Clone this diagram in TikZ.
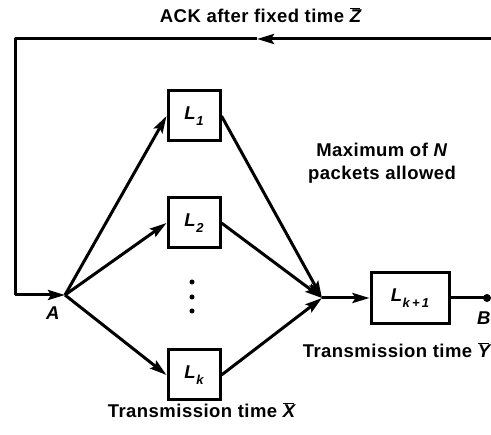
\documentclass[tikz,border=0pt]{standalone}
\usepackage{fontspec}
\setmainfont{Liberation Sans}
\usetikzlibrary{arrows.meta}
\newcommand{\Lsub}[1]{\textit{L}\kern0.5pt\raisebox{-0.55ex}{\fontsize{13}{13}\selectfont\itshape #1}}
\newcommand{\barit}[1]{\ensuremath{\overline{\mbox{\itshape #1\kern-1pt}}}}
\newcommand{\labfont}{\fontsize{18.5}{23}\selectfont\bfseries\addfontfeature{LetterSpace=2.5}}
\tikzset{
  line/.style={line width=3pt, line join=round},
  arr/.style={line, -{Stealth[length=17pt,width=10pt,inset=3pt]}},
  box/.style={draw, line width=3pt, minimum width=52pt, minimum height=50pt, inner sep=0pt, font=\fontsize{18.5}{20}\selectfont\bfseries},
  lab/.style={font=\labfont, inner sep=0pt},
}
\begin{document}
\begin{tikzpicture}[x=1pt,y=-1pt]
\useasboundingbox (0,0) rectangle (491,435);
\coordinate (A) at (65,295);
\coordinate (J) at (322,298);
\coordinate (TR) at (491,39);
\coordinate (M) at (257,39);
\coordinate (TL) at (15,39);
\coordinate (BL) at (15,295);
\coordinate (B) at (487,298);
\coordinate (d1) at (192,282);
\coordinate (d2) at (192,297);
\coordinate (d3) at (192,311);
\node[box] (L1) at (194,116) {\Lsub{1}};
\node[box] (L2) at (194,223) {\Lsub{2}};
\node[box] (Lk) at (194,375) {\Lsub{k}};
\node[box, minimum width=78pt, minimum height=51pt] (Lk1) at (410,298) {\Lsub{k\,+\,1}};
\fill (B) circle (4pt);
\fill (d1) circle (2.5pt);
\fill (d2) circle (2.5pt);
\fill (d3) circle (2.5pt);
\draw[arr] (TR) -- (M);
\draw[line] (M) -- (TL) -- (BL);
\draw[arr] (BL) -- (A);
\draw[arr] (A) -- (L1.west);
\draw[arr] (A) -- (L2.west);
\draw[arr] (A) -- (Lk.west);
\draw[arr] (L1.east) -- (J);
\draw[arr] (L2.east) -- (J);
\draw[arr] (Lk.east) -- (J);
\draw[arr] (J) -- (Lk1.west);
\draw[line] (Lk1.east) -- (B);
\node[lab] (ack) at (260,15) {ACK after fixed time \barit{Z}};
\node[lab, align=center] (max) at (382,163) {Maximum of \textit{N}\\packets allowed};
\node[lab] (ty) at (396,350) {Transmission time \barit{Y}};
\node[lab] (tx) at (201,410) {Transmission time \barit{X}};
\node[lab] (Alab) at (53,313) {\textit{A}};
\node[lab] (Blab) at (484,318) {\textit{B}};
\end{tikzpicture}
\end{document}
